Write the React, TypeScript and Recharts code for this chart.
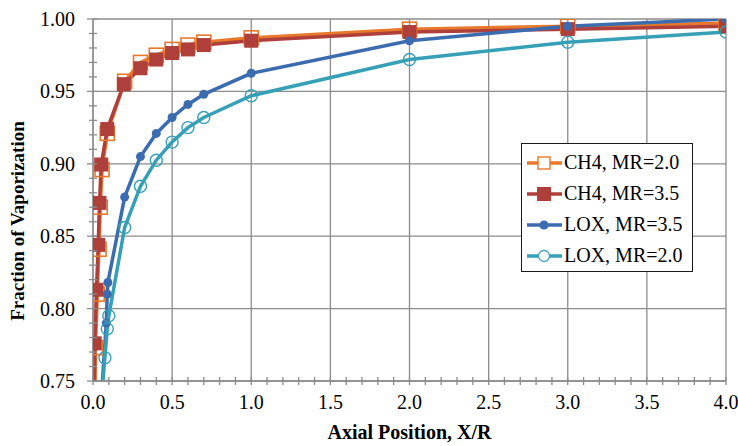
import React from 'react';
import { LineChart, Line, XAxis, YAxis, CartesianGrid, Legend } from 'recharts';

// ---- data ----
const ch4Mr20X = [0, 0.016, 0.027, 0.038, 0.046, 0.057, 0.09, 0.2, 0.3, 0.4, 0.5, 0.6, 0.7, 1.0, 2.0, 3.0, 4.0];
const ch4Mr20Y = [0.65, 0.773, 0.81, 0.841, 0.87, 0.896, 0.921, 0.957, 0.97, 0.975, 0.979, 0.982, 0.984, 0.987, 0.993, 0.995, 0.997];

const ch4Mr35X = [0, 0.011, 0.022, 0.033, 0.041, 0.052, 0.09, 0.195, 0.3, 0.4, 0.5, 0.6, 0.7, 1.0, 2.0, 3.0, 4.0];
const ch4Mr35Y = [0.65, 0.776, 0.813, 0.844, 0.873, 0.8995, 0.924, 0.955, 0.966, 0.972, 0.9765, 0.979, 0.982, 0.985, 0.991, 0.993, 0.995];

const loxMr35X = [0.05, 0.084, 0.09, 0.094, 0.2, 0.3, 0.4, 0.5, 0.6, 0.7, 1.0, 2.0, 3.0, 4.0];
const loxMr35Y = [0.735, 0.79, 0.81, 0.818, 0.877, 0.905, 0.921, 0.932, 0.941, 0.948, 0.9625, 0.985, 0.995, 1.0];

const loxMr20X = [0.05, 0.075, 0.09, 0.1, 0.2, 0.3, 0.4, 0.5, 0.6, 0.7, 1.0, 2.0, 3.0, 4.0];
const loxMr20Y = [0.733, 0.766, 0.786, 0.795, 0.856, 0.8845, 0.9025, 0.915, 0.925, 0.932, 0.947, 0.972, 0.984, 0.991];

const seriesNames = ['CH4, MR=2.0', 'CH4, MR=3.5', 'LOX, MR=3.5', 'LOX, MR=2.0'];

const xMajorTicks = [0, 0.5, 1.0, 1.5, 2.0, 2.5, 3.0, 3.5, 4.0];
const xAllTicks = [
  0, 0.1, 0.2, 0.3, 0.4, 0.5, 0.6, 0.7, 0.8, 0.9,
  1.0, 1.1, 1.2, 1.3, 1.4, 1.5, 1.6, 1.7, 1.8, 1.9,
  2.0, 2.1, 2.2, 2.3, 2.4, 2.5, 2.6, 2.7, 2.8, 2.9,
  3.0, 3.1, 3.2, 3.3, 3.4, 3.5, 3.6, 3.7, 3.8, 3.9, 4.0,
];
const yMajorTicks = [0.75, 0.8, 0.85, 0.9, 0.95, 1.0];
const yAllTicks = [
  0.75, 0.76, 0.77, 0.78, 0.79, 0.8, 0.81, 0.82, 0.83, 0.84,
  0.85, 0.86, 0.87, 0.88, 0.89, 0.9, 0.91, 0.92, 0.93, 0.94,
  0.95, 0.96, 0.97, 0.98, 0.99, 1.0,
];

const xTitle = 'Axial Position, X/R';
const yTitle = 'Fraction of Vaporization';

// ---- styles ----
const FONT = '"Liberation Serif", "Times New Roman", serif';
const C_ORANGE = '#E8782A';
const C_RED = '#AE3F3B';
const C_BLUE = '#3C6CB0';
const C_TEAL = '#35A0B6';
const GRID = '#8C8C8C';

const toPoints = (xs: number[], ys: number[]) => xs.map((x, i) => ({ x, y: ys[i] }));

const isMajor = (v: number, majors: number[]) => majors.some((m) => Math.abs(m - v) < 1e-9);

const XTick = (props: any) => {
  const { x, y, payload } = props;
  const major = isMajor(payload.value, xMajorTicks);
  return (
    <g>
      <line x1={x} x2={x} y1={y - 4} y2={y + 4} stroke={GRID} strokeWidth={1.3} />
      {major && (
        <text x={x} y={y + 28} textAnchor="middle" fontFamily={FONT} fontSize={20} fill="#000">
          {Number(payload.value).toFixed(1)}
        </text>
      )}
    </g>
  );
};

const YTick = (props: any) => {
  const { x, y, payload } = props;
  const major = isMajor(payload.value, yMajorTicks);
  return (
    <g>
      <line x1={x - (major ? 6 : 4)} x2={x + 4} y1={y} y2={y} stroke={GRID} strokeWidth={1.3} />
      {major && (
        <text x={x - 18} y={y + 7} textAnchor="end" fontFamily={FONT} fontSize={20} fill="#000">
          {Number(payload.value).toFixed(2)}
        </text>
      )}
    </g>
  );
};

const squareDot = (color: string, filled: boolean) => (p: any) => {
  if (p.cx == null || p.cy == null) return <g key={p.index} />;
  return (
    <rect
      key={p.index}
      x={p.cx - 7}
      y={p.cy - 7}
      width={14}
      height={14}
      fill={filled ? color : 'none'}
      stroke={color}
      strokeWidth={filled ? 0 : 1.6}
    />
  );
};

const circleDot = (color: string, filled: boolean, r: number) => (p: any) => {
  if (p.cx == null || p.cy == null) return <g key={p.index} />;
  return (
    <circle
      key={p.index}
      cx={p.cx}
      cy={p.cy}
      r={r}
      fill={filled ? color : 'none'}
      stroke={color}
      strokeWidth={filled ? 0 : 1.4}
    />
  );
};

const legendMarker = (name: string, color: string) => {
  const idx = seriesNames.indexOf(name);
  if (idx === 0) return <rect x={11} y={2} width={12} height={12} fill="#fff" stroke={color} strokeWidth={1.4} />;
  if (idx === 1) return <rect x={10} y={1} width={14} height={14} fill={color} />;
  if (idx === 2) return <circle cx={17} cy={8} r={4.5} fill={color} />;
  return <circle cx={17} cy={8} r={5.5} fill="#fff" stroke={color} strokeWidth={1.3} />;
};

const LegendBox = (props: any) => {
  const payload = [...(props.payload || [])].sort(
    (a: any, b: any) => seriesNames.indexOf(a.value) - seriesNames.indexOf(b.value)
  );
  return (
    <div
      style={{
        border: '1.5px solid #1a1a1a',
        background: '#fff',
        boxSizing: 'border-box',
        width: 172,
        height: 129,
        padding: '3px 0 0 5px',
      }}
    >
      {payload.map((entry: any) => (
        <div
          key={entry.value}
          style={{ display: 'flex', alignItems: 'center', height: 31, fontFamily: FONT, fontSize: 20, color: '#000', whiteSpace: 'nowrap' }}
        >
          <svg width={35} height={16} style={{ display: 'block' }}>
            <line x1={0} y1={8} x2={35} y2={8} stroke={entry.color} strokeWidth={3.5} />
            {legendMarker(entry.value, entry.color)}
          </svg>
          <span style={{ marginLeft: 2 }}>{entry.value}</span>
        </div>
      ))}
    </div>
  );
};

const XTitle = (p: any) => {
  const vb = p.viewBox;
  return (
    <text x={vb.x + vb.width / 2} y={vb.y + 58} textAnchor="middle" fontFamily={FONT} fontWeight="bold" fontSize={20} fill="#000">
      {xTitle}
    </text>
  );
};

const YTitle = (p: any) => {
  const vb = p.viewBox;
  const cx = vb.x + 24;
  const cy = vb.y + 202;
  return (
    <text x={cx} y={cy} transform={`rotate(-90, ${cx}, ${cy})`} textAnchor="middle" fontFamily={FONT} fontWeight="bold" fontSize={19} fill="#000">
      {yTitle}
    </text>
  );
};

export default function App() {
  return (
    <div style={{ position: 'absolute', left: 0, top: 0, width: 738, height: 446, background: '#fff' }}>
      <LineChart width={738} height={446} margin={{ top: 19, right: 12, bottom: 0, left: 0 }}>
        <CartesianGrid
          stroke={GRID}
          strokeWidth={1.3}
          horizontalValues={yMajorTicks}
          verticalValues={xMajorTicks}
        />
        <XAxis
          type="number"
          dataKey="x"
          domain={[0, 4]}
          ticks={xAllTicks}
          interval={0}
          allowDataOverflow
          height={65}
          axisLine={{ stroke: GRID, strokeWidth: 1.3 }}
          tickLine={false}
          tickSize={0}
          tickMargin={0}
          tick={<XTick />}
          label={{ content: (p: any) => <XTitle {...p} /> }}
        />
        <YAxis
          type="number"
          dataKey="y"
          domain={[0.75, 1.0]}
          ticks={yAllTicks}
          interval={0}
          allowDataOverflow
          width={93}
          axisLine={{ stroke: GRID, strokeWidth: 1.3 }}
          tickLine={false}
          tickSize={0}
          tickMargin={0}
          tick={<YTick />}
          label={{ content: (p: any) => <YTitle {...p} /> }}
        />
        <Legend
          layout="vertical"
          align="center"
          verticalAlign="middle"
          content={<LegendBox />}
          wrapperStyle={{ left: 521, top: 143, width: 172, height: 129 }}
        />
        <Line
          name={seriesNames[0]}
          data={toPoints(ch4Mr20X, ch4Mr20Y)}
          dataKey="y"
          type="linear"
          stroke={C_ORANGE}
          strokeWidth={3.5}
          dot={squareDot(C_ORANGE, false)}
          activeDot={false}
          isAnimationActive={false}
        />
        <Line
          name={seriesNames[1]}
          data={toPoints(ch4Mr35X, ch4Mr35Y)}
          dataKey="y"
          type="linear"
          stroke={C_RED}
          strokeWidth={3.5}
          dot={squareDot(C_RED, true)}
          activeDot={false}
          isAnimationActive={false}
        />
        <Line
          name={seriesNames[2]}
          data={toPoints(loxMr35X, loxMr35Y)}
          dataKey="y"
          type="linear"
          stroke={C_BLUE}
          strokeWidth={3.5}
          dot={circleDot(C_BLUE, true, 4.5)}
          activeDot={false}
          isAnimationActive={false}
        />
        <Line
          name={seriesNames[3]}
          data={toPoints(loxMr20X, loxMr20Y)}
          dataKey="y"
          type="linear"
          stroke={C_TEAL}
          strokeWidth={3.5}
          dot={circleDot(C_TEAL, false, 6)}
          activeDot={false}
          isAnimationActive={false}
        />
      </LineChart>
    </div>
  );
}
